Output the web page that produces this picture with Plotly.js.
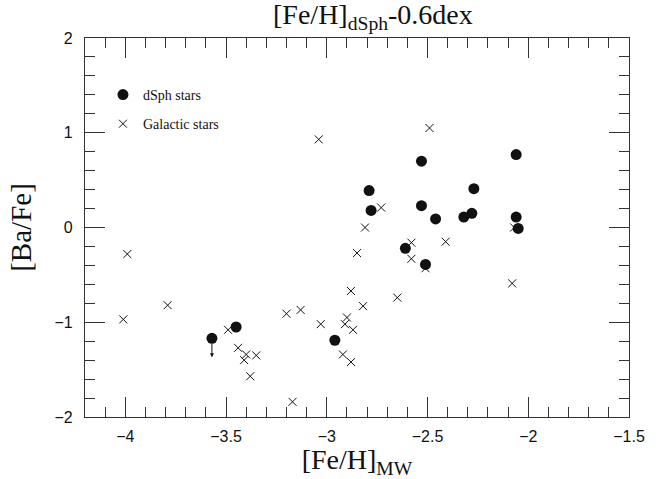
<!DOCTYPE html>
<html>
<head>
<meta charset="utf-8">
<script src="https://cdn.plot.ly/plotly-3.0.1.min.js"></script>
<style>html,body{margin:0;padding:0;background:#fff}#chart{width:660px;height:479px}</style>
</head>
<body>
<div id="chart"></div>
<script>
// dSph stars ([Fe/H]dSph - 0.6 dex)
const dsphFe = [-3.57, -3.45, -2.96, -2.79, -2.78, -2.53, -2.53, -2.46, -2.61, -2.51, -2.27, -2.32, -2.28, -2.06, -2.06, -2.05];
const dsphBa = [-1.17, -1.05, -1.19, 0.39, 0.18, 0.70, 0.23, 0.09, -0.22, -0.39, 0.41, 0.11, 0.15, 0.77, 0.11, -0.01];
// Galactic (MW) stars
const mwFe = [-3.99, -4.01, -3.79, -3.49, -3.44, -3.40, -3.41, -3.35, -3.38, -3.20, -3.13, -3.17, -3.03,
              -2.90, -2.91, -2.87, -2.92, -2.88, -2.88, -2.85, -2.49, -3.04, -2.73, -2.81, -2.58, -2.58,
              -2.51, -2.41, -2.08, -2.07, -2.65, -2.82];
const mwBa = [-0.28, -0.97, -0.82, -1.08, -1.27, -1.34, -1.40, -1.35, -1.57, -0.91, -0.87, -1.84, -1.02,
              -0.95, -1.02, -1.08, -1.34, -1.42, -0.67, -0.27, 1.05, 0.93, 0.21, 0.00, -0.16, -0.33,
              -0.43, -0.15, -0.59, 0.00, -0.74, -0.83];
// upper limit (arrow) on one dSph star
const limitFe = [-3.57];
const limitBa = [-1.17];
const limitTo = [-1.37];

const serif = 'Liberation Serif, Times New Roman, serif';
const sans = 'Liberation Sans, Arial, Helvetica, sans-serif';

const traces = [
  {x: dsphFe, y: dsphBa, type: 'scatter', mode: 'markers', name: 'dSph stars', legendgroup: 'a',
   marker: {symbol: 'circle', size: 11, color: '#111'}},
  {x: mwFe, y: mwBa, type: 'scatter', mode: 'markers', name: 'Galactic stars', legendgroup: 'b',
   marker: {symbol: 'x-thin-open', size: 8, color: '#111', line: {width: 1, color: '#111'}}}
];

const axisCommon = {
  showgrid: false, zeroline: false, showline: true, linecolor: '#333', linewidth: 1.2,
  mirror: 'ticks', ticks: 'inside', ticklen: 20, tickwidth: 1, tickcolor: '#333',
  tickfont: {family: sans, size: 16, color: '#111'}, automargin: false
};

const annotations = limitFe.map((x, i) => ({
  x: x, y: limitTo[i], ax: x, ay: limitBa[i] - 0.04, xref: 'x', yref: 'y', axref: 'x', ayref: 'y',
  showarrow: true, arrowhead: 2, arrowsize: 0.8, arrowwidth: 1, arrowcolor: '#111', text: ''
}));

const layout = {
  width: 660, height: 479,
  margin: {l: 85, r: 31, t: 38, b: 62},
  paper_bgcolor: '#fff', plot_bgcolor: '#fff',
  title: {text: '[Fe/H]<sub>dSph</sub>-0.6dex', x: 0.565, xanchor: 'center', y: 0.99, yanchor: 'top',
          font: {family: serif, size: 28, color: '#111'}},
  xaxis: Object.assign({}, axisCommon, {
    range: [-4.2, -1.5], dtick: 0.5, tick0: -4, ticklabelstandoff: 5,
    minor: {dtick: 0.1, ticklen: 10, ticks: 'inside', tickwidth: 1, tickcolor: '#333'},
    title: {text: '[Fe/H]<sub>MW</sub>', font: {family: serif, size: 28, color: '#111'}, standoff: 12}
  }),
  yaxis: Object.assign({}, axisCommon, {
    range: [-2, 2], dtick: 1, ticklabelstandoff: 8,
    minor: {dtick: 0.2, ticklen: 10, ticks: 'inside', tickwidth: 1, tickcolor: '#333'},
    title: {text: '[Ba/Fe]', font: {family: serif, size: 29, color: '#111'}, standoff: 14}
  }),
  showlegend: true,
  legend: {x: 0.033, y: 0.892, xanchor: 'left', yanchor: 'top', bgcolor: 'rgba(0,0,0,0)',
           font: {family: serif, size: 14, color: '#111'}, tracegroupgap: 8, traceorder: 'grouped',
           itemwidth: 30},
  annotations: annotations
};

Plotly.newPlot('chart', traces, layout, {displayModeBar: false, responsive: false});
</script>
</body>
</html>
